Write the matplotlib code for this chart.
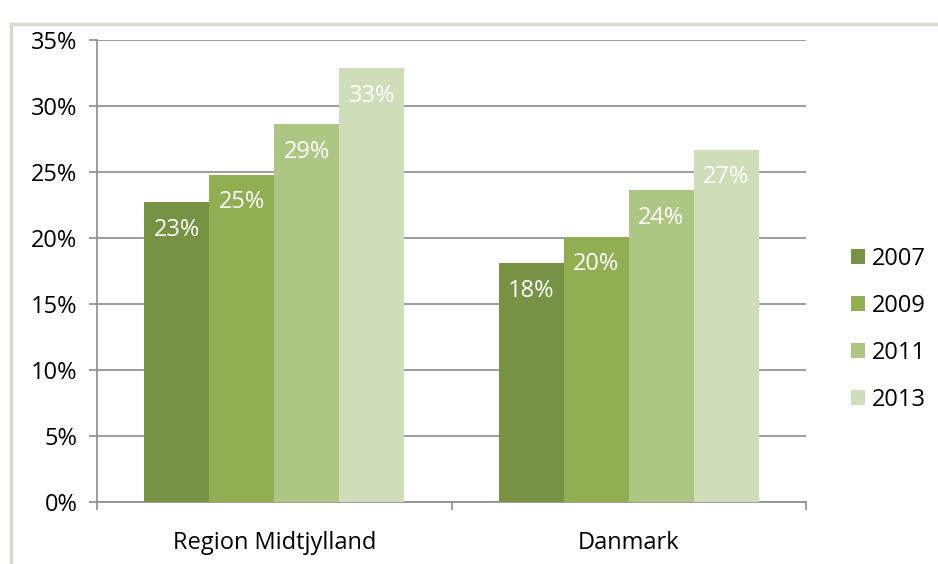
import matplotlib
matplotlib.use('Agg')
import matplotlib.pyplot as plt
from matplotlib.lines import Line2D
import numpy as np

regions = ['Region Midtjylland', 'Danmark']
years = ['2007', '2009', '2011', '2013']
values = {
    '2007': [22.7, 18.1],
    '2009': [24.8, 20.1],
    '2011': [28.6, 23.6],
    '2013': [32.9, 26.7],
}
colors = ['#779145', '#92ae53', '#aec684', '#cfddb9']

plt.rcParams['font.family'] = ['Open Sans', 'DejaVu Sans']

fig = plt.figure(figsize=(9.38, 5.64), dpi=100)
ax = fig.add_axes([0.1034, 0.1105, 0.7559, 0.8185])

x = np.arange(len(regions))
w = 0.1834
for i, yr in enumerate(years):
    pos = x + (i - 1.5) * w
    bars = ax.bar(pos, values[yr], width=w, color=colors[i], label=yr, zorder=3)
    for b, v in zip(bars, values[yr]):
        ax.annotate('{:.0f}%'.format(v), (b.get_x() + b.get_width() / 2, v),
                    xytext=(0, -20), textcoords='offset points',
                    ha='center', va='center', color='white', fontsize=17, zorder=4)

ax.set_xlim(-0.5, 1.5)
ax.set_ylim(0, 35)
ax.set_yticks(np.arange(0, 36, 5))
ax.set_yticklabels(['{}%'.format(t) for t in range(0, 36, 5)], fontsize=17)
ax.yaxis.grid(True, color='#8c8c8c', linewidth=1.2, zorder=0)
ax.set_axisbelow(True)

ax.set_xticks([-0.5, 0.5, 1.5])
ax.set_xticklabels([])
ax.set_xticks(x, minor=True)
ax.set_xticklabels(regions, minor=True, fontsize=17)
ax.tick_params(axis='x', which='minor', length=0, pad=21)
ax.tick_params(axis='x', which='major', length=6, color='#8c8c8c', width=1.2)
ax.tick_params(axis='y', length=6, color='#8c8c8c', width=1.2, pad=8)

for s in ['top', 'right']:
    ax.spines[s].set_visible(False)
for s in ['left', 'bottom']:
    ax.spines[s].set_color('#8c8c8c')
    ax.spines[s].set_linewidth(1.2)

fig.legend(loc='center left', bbox_to_anchor=(851 / 938, 0.4155), frameon=False,
           borderpad=0, borderaxespad=0,
           fontsize=17, handlelength=0.6, handleheight=0.6, handletextpad=0.3,
           labelspacing=0.97)

# outer frame
fig.add_artist(Line2D([11 / 938, 1.0], [1 - 24 / 564, 1 - 24 / 564],
                      transform=fig.transFigure, color='#dcd8cc', linewidth=2.5))
fig.add_artist(Line2D([11 / 938, 11 / 938], [0.0, 1 - 24 / 564],
                      transform=fig.transFigure, color='#dcd8cc', linewidth=2.5))

fig.savefig('out.png', dpi=100)
